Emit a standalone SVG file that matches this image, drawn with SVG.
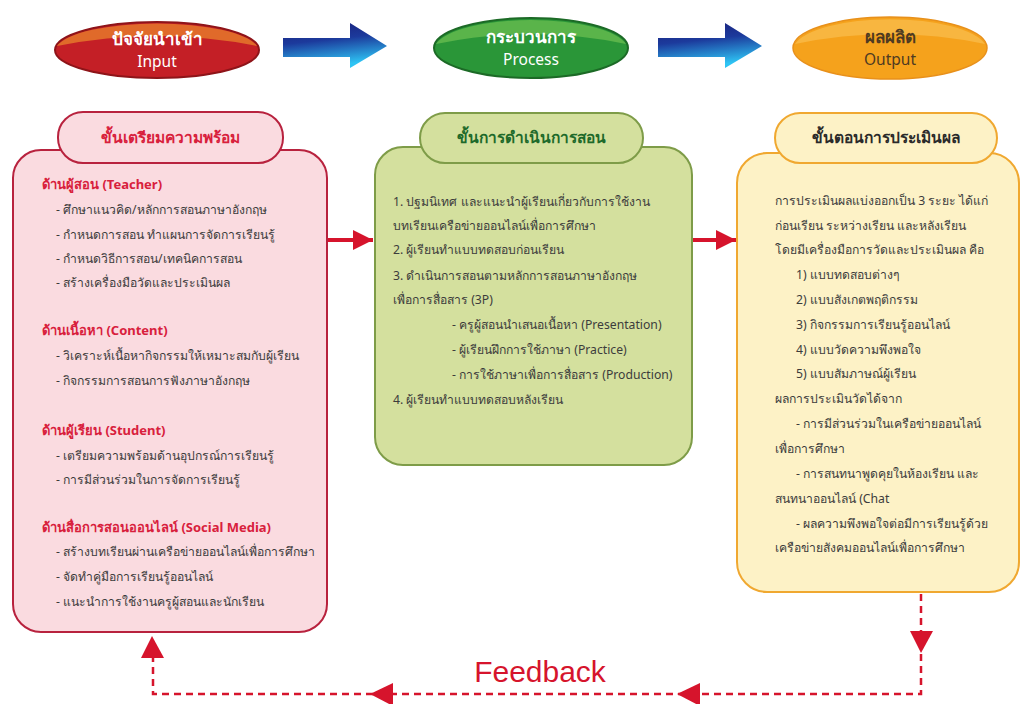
<svg xmlns="http://www.w3.org/2000/svg" width="1021" height="704" viewBox="0 0 1021 704">
<defs>
<style>
text{font-family:"Noto Sans","DejaVu Sans",sans-serif}
.ot{font-size:17px;font-weight:bold;text-anchor:middle}
.oe{font-size:15.5px;text-anchor:middle}
.tt{font-size:15.5px;font-weight:bold;text-anchor:middle}
.h{font-size:13px;font-weight:bold;fill:#d8203c}
.b{font-size:12.2px;fill:#3c3c3c}
.flow{stroke:#d6142c;stroke-width:4;fill:none}
.dash{stroke:#d6142c;stroke-width:2.5;fill:none;stroke-dasharray:7 5}
</style>
<linearGradient id="blue" x1="0" y1="0" x2="0.25" y2="1">
<stop offset="0" stop-color="#1a1f78"/>
<stop offset="0.45" stop-color="#1c3a9c"/>
<stop offset="1" stop-color="#2ec4f4"/>
</linearGradient>
<marker id="ar" viewBox="0 0 10 10" refX="10" refY="5" markerWidth="5" markerHeight="5" orient="auto" markerUnits="strokeWidth">
<path d="M0,0 L10,5 L0,10 Z" fill="#d6142c"/>
</marker>
</defs>

<g id="input">
<ellipse cx="157" cy="50" rx="102" ry="28" fill="#c41f26" stroke="#8e1419" stroke-width="2"/>
<path d="M57,46 Q157,26 257,46 A102,28 0 0 0 57,46 Z" fill="#e06a2a"/>
<text class="ot" x="157" y="45" fill="#ffffff">ปัจจัยนำเข้า</text>
<text class="oe" x="157" y="67" fill="#ffffff">Input</text>
</g>

<g id="process">
<ellipse cx="531" cy="48" rx="97" ry="30" fill="#2a9638" stroke="#1c6a26" stroke-width="2"/>
<path d="M436,44 Q531,24 626,44 A97,30 0 0 0 436,44 Z" fill="#5ab44a"/>
<text class="ot" x="531" y="43" fill="#ffffff">กระบวนการ</text>
<text class="oe" x="531" y="65" fill="#ffffff">Process</text>
</g>

<g id="output">
<ellipse cx="890" cy="48" rx="97" ry="31" fill="#f5a21c" stroke="#e8901a" stroke-width="1.5"/>
<path d="M795,44 Q890,24 985,44 A97,31 0 0 0 795,44 Z" fill="#f8b640"/>
<text class="ot" x="890" y="43" fill="#4e3a22">ผลผลิต</text>
<text class="oe" x="890" y="65" fill="#4e3a22">Output</text>
</g>

<g id="arrow-input-process">
<path d="M283,38 L350,38 L350,23 L387,46 L350,68 L350,57 L283,57 Z" fill="url(#blue)"/>
</g>
<g id="arrow-process-output">
<path d="M658,38 L725,38 L725,23 L762,46 L725,68 L725,57 L658,57 Z" fill="url(#blue)"/>
</g>

<g id="prep">
<rect x="13" y="150" width="314" height="482" rx="28" fill="#fadbe0" stroke="#b8223e" stroke-width="2"/>
<rect x="58" y="112" width="225" height="51" rx="25" fill="#fadbe0" stroke="#b8223e" stroke-width="2"/>
<text class="tt" x="170" y="143" fill="#d8203c">ขั้นเตรียมความพร้อม</text>
<text class="h" x="42" y="189">ด้านผู้สอน (Teacher)</text>
<text class="b" x="56" y="214">- ศึกษาแนวคิด/หลักการสอนภาษาอังกฤษ</text>
<text class="b" x="56" y="239">- กำหนดการสอน ทำแผนการจัดการเรียนรู้</text>
<text class="b" x="56" y="263">- กำหนดวิธีการสอน/เทคนิคการสอน</text>
<text class="b" x="56" y="287">- สร้างเครื่องมือวัดและประเมินผล</text>
<text class="h" x="42" y="335">ด้านเนื้อหา (Content)</text>
<text class="b" x="56" y="360">- วิเคราะห์เนื้อหากิจกรรมให้เหมาะสมกับผู้เรียน</text>
<text class="b" x="56" y="385">- กิจกรรมการสอนการฟังภาษาอังกฤษ</text>
<text class="h" x="42" y="435">ด้านผู้เรียน (Student)</text>
<text class="b" x="56" y="460">- เตรียมความพร้อมด้านอุปกรณ์การเรียนรู้</text>
<text class="b" x="56" y="484">- การมีส่วนร่วมในการจัดการเรียนรู้</text>
<text class="h" x="42" y="532">ด้านสื่อการสอนออนไลน์ (Social Media)</text>
<text class="b" x="56" y="556">- สร้างบทเรียนผ่านเครือข่ายออนไลน์เพื่อการศึกษา</text>
<text class="b" x="56" y="581">- จัดทำคู่มือการเรียนรู้ออนไลน์</text>
<text class="b" x="56" y="606">- แนะนำการใช้งานครูผู้สอนและนักเรียน</text>
</g>

<g id="teaching">
<rect x="375" y="147" width="317" height="318" rx="28" fill="#d4e09e" stroke="#7e9c48" stroke-width="2"/>
<rect x="420" y="113" width="223" height="50" rx="25" fill="#d4e09e" stroke="#7e9c48" stroke-width="2"/>
<text class="tt" x="531" y="143" fill="#1e6a2a">ขั้นการดำเนินการสอน</text>
<text class="b" x="393" y="206">1. ปฐมนิเทศ และแนะนำผู้เรียนเกี่ยวกับการใช้งาน</text>
<text class="b" x="393" y="230">บทเรียนเครือข่ายออนไลน์เพื่อการศึกษา</text>
<text class="b" x="393" y="254">2. ผู้เรียนทำแบบทดสอบก่อนเรียน</text>
<text class="b" x="393" y="280">3. ดำเนินการสอนตามหลักการสอนภาษาอังกฤษ</text>
<text class="b" x="393" y="304">เพื่อการสื่อสาร (3P)</text>
<text class="b" x="452" y="329">- ครูผู้สอนนำเสนอเนื้อหา (Presentation)</text>
<text class="b" x="452" y="354">- ผู้เรียนฝึกการใช้ภาษา (Practice)</text>
<text class="b" x="452" y="379">- การใช้ภาษาเพื่อการสื่อสาร (Production)</text>
<text class="b" x="393" y="404">4. ผู้เรียนทำแบบทดสอบหลังเรียน</text>
</g>

<g id="evaluation">
<rect x="737" y="153" width="282" height="439" rx="30" fill="#fdf2c6" stroke="#f0a830" stroke-width="2"/>
<rect x="775" y="113" width="222" height="50" rx="25" fill="#fdf2c6" stroke="#f0a830" stroke-width="2"/>
<text class="tt" x="886" y="143" fill="#2a2a2a">ขั้นตอนการประเมินผล</text>
<text class="b" x="775" y="205">การประเมินผลแบ่งออกเป็น 3 ระยะ ได้แก่</text>
<text class="b" x="775" y="230">ก่อนเรียน ระหว่างเรียน และหลังเรียน</text>
<text class="b" x="775" y="254">โดยมีเครื่องมือการวัดและประเมินผล คือ</text>
<text class="b" x="796" y="279">1) แบบทดสอบต่างๆ</text>
<text class="b" x="796" y="304">2) แบบสังเกตพฤติกรรม</text>
<text class="b" x="796" y="329">3) กิจกรรมการเรียนรู้ออนไลน์</text>
<text class="b" x="796" y="354">4) แบบวัดความพึงพอใจ</text>
<text class="b" x="796" y="378">5) แบบสัมภาษณ์ผู้เรียน</text>
<text class="b" x="775" y="403">ผลการประเมินวัดได้จาก</text>
<text class="b" x="796" y="428">- การมีส่วนร่วมในเครือข่ายออนไลน์</text>
<text class="b" x="775" y="453">เพื่อการศึกษา</text>
<text class="b" x="796" y="478">- การสนทนาพูดคุยในห้องเรียน และ</text>
<text class="b" x="775" y="503">สนทนาออนไลน์ (Chat</text>
<text class="b" x="796" y="528">- ผลความพึงพอใจต่อมีการเรียนรู้ด้วย</text>
<text class="b" x="775" y="552">เครือข่ายสังคมออนไลน์เพื่อการศึกษา</text>
</g>

<g id="connectors">
<line class="flow" x1="328" y1="240" x2="373" y2="240" marker-end="url(#ar)"/>
<line class="flow" x1="693" y1="240" x2="736" y2="240" marker-end="url(#ar)"/>
<path class="dash" d="M921,594 L921,694 L153,694 L153,658"/>
<path d="M910,631 L933,631 L921,653 Z" fill="#d6142c"/>
<path d="M700,683 L700,706 L677,694 Z" fill="#d6142c"/>
<path d="M393,683 L393,706 L370,694 Z" fill="#d6142c"/>
<path d="M141,658 L164,658 L152,636 Z" fill="#d6142c"/>
<text x="540" y="682" font-size="30" fill="#d6142c" text-anchor="middle" style="font-family:'Liberation Sans',sans-serif">Feedback</text>
</g>
</svg>
